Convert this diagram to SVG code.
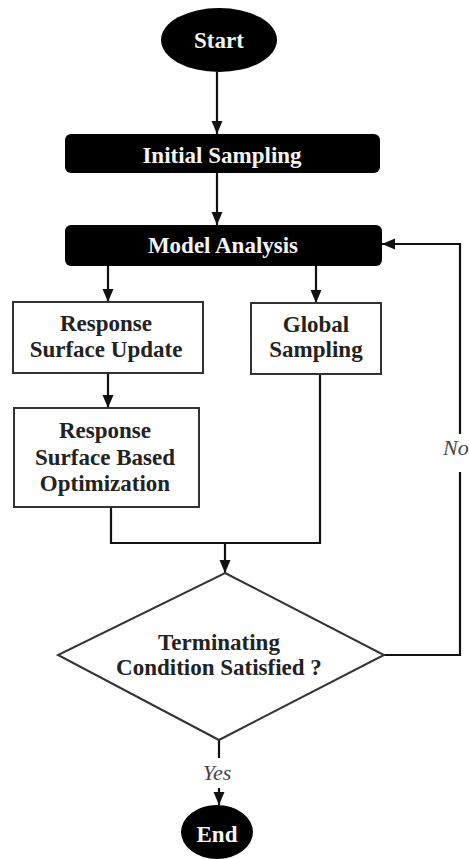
<svg xmlns="http://www.w3.org/2000/svg" width="469" height="859" viewBox="0 0 469 859">
<defs>
<marker id="ah" markerUnits="userSpaceOnUse" markerWidth="14" markerHeight="14" viewBox="0 0 14 14" refX="13" refY="7" orient="auto">
<path d="M0,1.5 L13,7 L0,12.5 Z" fill="#111"/>
</marker>
</defs>
<style>
.t{font-family:"Liberation Serif","Times New Roman",serif;font-weight:bold;font-size:23px;text-anchor:middle}
.w{fill:#f4f4f4}
.k{fill:#222}
.lbl{font-family:"Liberation Serif","Times New Roman",serif;font-style:italic;font-size:22px;fill:#444}
.box{fill:#fff;stroke:#333;stroke-width:2}
.blk{fill:#000}
.c{fill:none;stroke:#111;stroke-width:2.2}
</style>
<rect width="469" height="859" fill="#fff"/>
<g id="connectors">
<line class="c" x1="217" y1="72" x2="217" y2="134" marker-end="url(#ah)"/>
<line class="c" x1="217" y1="173" x2="217" y2="225" marker-end="url(#ah)"/>
<line class="c" x1="108" y1="266" x2="108" y2="302" marker-end="url(#ah)"/>
<line class="c" x1="316" y1="266" x2="316" y2="303" marker-end="url(#ah)"/>
<line class="c" x1="108" y1="373" x2="108" y2="408" marker-end="url(#ah)"/>
<polyline class="c" points="320,374 320,543 111,543 111,507"/>
<line class="c" x1="225" y1="543" x2="225" y2="573" marker-end="url(#ah)"/>
<polyline class="c" points="384,655 460,655 460,472"/>
<polyline class="c" points="460,434 460,244 382,244" marker-end="url(#ah)"/>
<line class="c" x1="219" y1="740" x2="219" y2="758"/>
<line class="c" x1="219" y1="788" x2="219" y2="805" marker-end="url(#ah)"/>
<text class="lbl" x="443" y="455" font-size="21">No</text>
<text class="lbl" x="217" y="780" text-anchor="middle">Yes</text>
</g>
<g id="start">
<ellipse class="blk" cx="219" cy="40" rx="58" ry="32"/>
<text class="t w" x="219" y="48">Start</text>
</g>
<g id="initial-sampling">
<rect class="blk" x="65" y="134" width="315" height="39" rx="6"/>
<text class="t w" x="222" y="163">Initial Sampling</text>
</g>
<g id="model-analysis">
<rect class="blk" x="65" y="225" width="317" height="41" rx="6"/>
<text class="t w" x="223" y="253">Model Analysis</text>
</g>
<g id="response-surface-update">
<rect class="box" x="13" y="302" width="190" height="71"/>
<text class="t k" x="106" y="331">Response</text>
<text class="t k" x="106" y="357">Surface Update</text>
</g>
<g id="global-sampling">
<rect class="box" x="251" y="303" width="130" height="71"/>
<text class="t k" x="316" y="332">Global</text>
<text class="t k" x="316" y="357">Sampling</text>
</g>
<g id="rs-optimization">
<rect class="box" x="14" y="408" width="185" height="99"/>
<text class="t k" x="105" y="438">Response</text>
<text class="t k" x="105" y="465">Surface Based</text>
<text class="t k" x="105" y="491">Optimization</text>
</g>
<g id="terminating">
<polygon class="box" points="225,573 384,655 219,740 58,655"/>
<text class="t k" x="219" y="650">Terminating</text>
<text class="t k" x="219" y="675">Condition Satisfied ?</text>
</g>
<g id="end">
<ellipse class="blk" cx="217" cy="832" rx="36" ry="27"/>
<text class="t w" x="217" y="842">End</text>
</g>
</svg>
